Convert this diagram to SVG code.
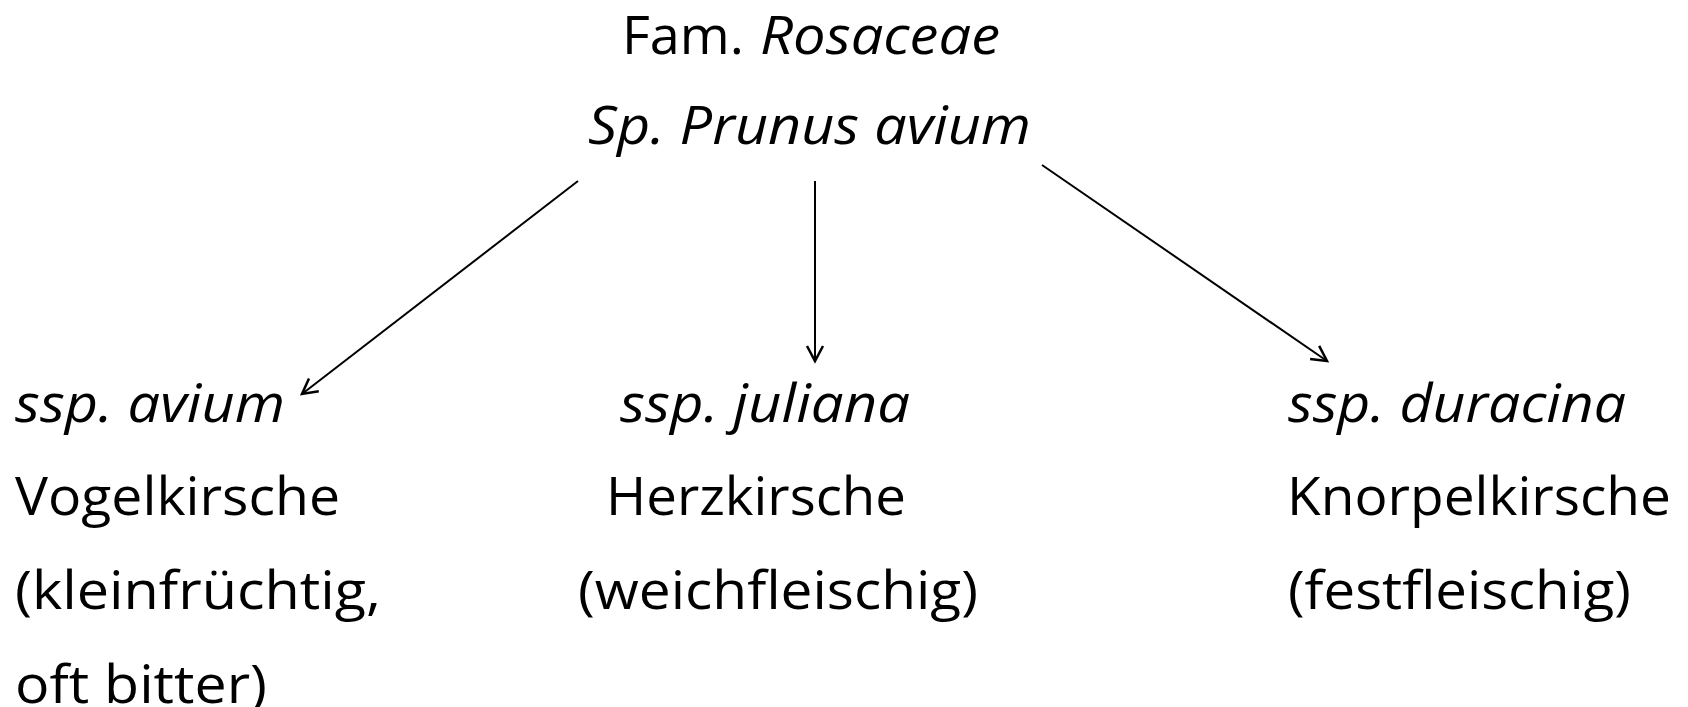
<svg xmlns="http://www.w3.org/2000/svg" width="1688" height="707" viewBox="0 0 1688 707">
<style>
text{font-family:"Open Sans","Noto Sans","Liberation Sans",sans-serif;font-size:53px;fill:#000}
.i{font-style:italic}
.c{stroke:#000;stroke-width:2;fill:none}
</style>
<defs>
<marker id="ah" markerUnits="userSpaceOnUse" markerWidth="30" markerHeight="30" refX="0" refY="0" viewBox="-20 -15 30 30" orient="auto" overflow="visible">
<path d="M-15,-8 L0,0 L-15,8" fill="none" stroke="#000" stroke-width="2.5"/>
</marker>
</defs>
<rect width="1688" height="707" fill="#fff"/>
<g id="root">
<text x="622" y="54" textLength="122" lengthAdjust="spacingAndGlyphs">Fam.</text>
<text class="i" x="760" y="54" textLength="240" lengthAdjust="spacingAndGlyphs">Rosaceae</text>
<text class="i" x="588" y="144" textLength="443" lengthAdjust="spacingAndGlyphs">Sp. Prunus avium</text>
</g>
<g id="avium">
<text class="i" x="15" y="422" textLength="270" lengthAdjust="spacingAndGlyphs">ssp. avium</text>
<text x="15" y="515" textLength="325" lengthAdjust="spacingAndGlyphs">Vogelkirsche</text>
<text x="15" y="609" textLength="366" lengthAdjust="spacingAndGlyphs">(kleinfrüchtig,</text>
<text x="15" y="703" textLength="252" lengthAdjust="spacingAndGlyphs">oft bitter)</text>
</g>
<g id="juliana">
<text class="i" x="620" y="422" textLength="290" lengthAdjust="spacingAndGlyphs">ssp. juliana</text>
<text x="606" y="515" textLength="300" lengthAdjust="spacingAndGlyphs">Herzkirsche</text>
<text x="578" y="609" textLength="400" lengthAdjust="spacingAndGlyphs">(weichfleischig)</text>
</g>
<g id="duracina">
<text class="i" x="1288" y="422" textLength="338" lengthAdjust="spacingAndGlyphs">ssp. duracina</text>
<text x="1287" y="515" textLength="384" lengthAdjust="spacingAndGlyphs">Knorpelkirsche</text>
<text x="1288" y="609" textLength="343" lengthAdjust="spacingAndGlyphs">(festfleischig)</text>
</g>
<g id="connectors">
<line class="c" x1="578" y1="181" x2="302" y2="394" marker-end="url(#ah)"/>
<line class="c" x1="815" y1="181" x2="815" y2="361" marker-end="url(#ah)"/>
<line class="c" x1="1042" y1="165" x2="1327" y2="361" marker-end="url(#ah)"/>
</g>
</svg>
